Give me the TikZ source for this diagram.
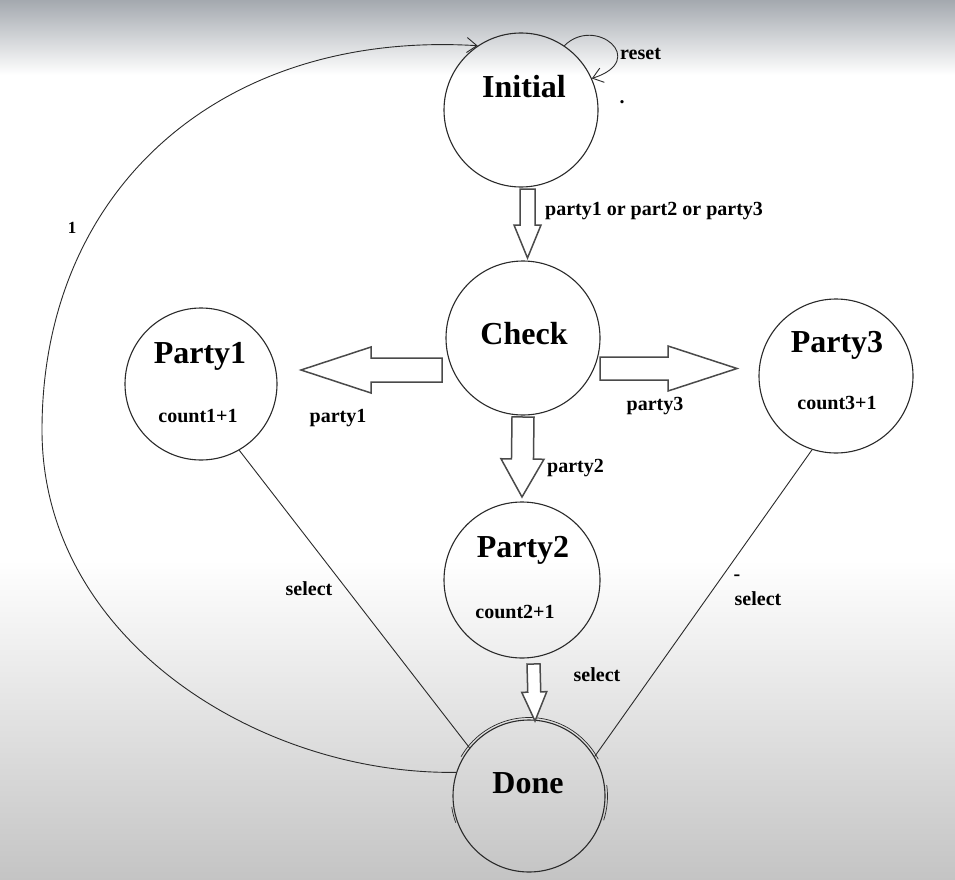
\documentclass[tikz,border=0pt]{standalone}
\usepackage{fontspec}
\setmainfont{Liberation Serif}
\usetikzlibrary{calc,arrows.meta}
\definecolor{inkc}{HTML}{2A2A2A}
\definecolor{topband}{HTML}{A4A9AF}
\definecolor{botgray}{HTML}{C4C4C4}
\newcommand\blockarrow[5]{% start, tip, shaft half width, head half width, head length
  \draw[blk] ($(#1)!#3!90:(#2)$)
    -- ($(#2)!#5!(#1)!#3!-90:(#1)$)
    -- ($(#2)!#5!(#1)!#4!-90:(#1)$)
    -- (#2)
    -- ($(#2)!#5!(#1)!#4!90:(#1)$)
    -- ($(#2)!#5!(#1)!#3!90:(#1)$)
    -- ($(#1)!#3!-90:(#2)$) -- cycle;}
\begin{document}
\begin{tikzpicture}[x=1pt,y=-1pt,
  state/.style={circle,draw=inkc,line width=1.1pt,minimum size=154pt,inner sep=0pt},
  big/.style={font=\fontsize{32}{36}\selectfont\bfseries,inner sep=0pt,anchor=base},
  small/.style={font=\fontsize{20}{24}\selectfont\bfseries,inner sep=0pt,anchor=base},
  tiny/.style={font=\fontsize{17}{20}\selectfont\bfseries,inner sep=0pt,anchor=base},
  blk/.style={draw=inkc!85,line width=1.5pt,fill=white,line join=miter},
  thinline/.style={draw=inkc,line width=0.9pt},
  sketch/.style={draw=inkc,line width=0.7pt},
  arr/.style={thinline,-{Straight Barb[length=10pt,width=15pt,line width=0.9pt]}}
]
% background
\fill[white] (0,0) rectangle (955,880);
\shade[top color=topband,bottom color=white] (0,0) rectangle (955,75);
\shade[top color=white,bottom color=botgray] (0,560) rectangle (955,880);
\useasboundingbox (0,0) rectangle (955,880);

% states
\node[state] (Initial) at (521,110) {};
\node[state] (Check) at (523,338) {};
\node[state,minimum size=152pt] (Party1) at (201,384) {};
\node[state,minimum size=154pt] (Party3) at (836,376) {};
\node[state,minimum size=156pt] (Party2) at (522,580) {};
\node[state,minimum size=152pt] (Done) at (529,796) {};
% sketchy double strokes on Done
\draw[sketch] ([shift={(150:78.5pt)}]Done.center) arc[start angle=150,end angle=28,radius=78.5pt];
\draw[sketch] ([shift={(8:78.5pt)}]Done.center) arc[start angle=8,end angle=-18,radius=78.5pt];
\draw[sketch] ([shift={(200:78pt)}]Done.center) arc[start angle=200,end angle=188,radius=78pt];

% state texts
\node[big] (tInitial) at (524,98) {Initial};
\node[big] (tCheck) at (524,344) {Check};
\node[big] (tParty1) at (200,363) {Party1};
\node[small] (cParty1) at (198,422) {count1+1};
\node[big] (tParty3) at (837,352) {Party3};
\node[small] (cParty3) at (837,409) {count3+1};
\node[big] (tParty2) at (523,557) {Party2};
\node[small] (cParty2) at (515,618) {count2+1};
\node[big] (tDone) at (528,793) {Done};

% block arrows
\coordinate (a0s) at (527.5,189);
\coordinate (a0t) at (527.5,258);
\blockarrow{a0s}{a0t}{7.5pt}{13.5pt}{33pt}
\coordinate (a1s) at (442,370);
\coordinate (a1t) at (301,370);
\blockarrow{a1s}{a1t}{12pt}{23pt}{70pt}
\coordinate (a3s) at (600,368.5);
\coordinate (a3t) at (737,368.5);
\blockarrow{a3s}{a3t}{11.5pt}{22.5pt}{69pt}
\coordinate (a2s) at (523,417);
\coordinate (a2t) at (522,497);
\blockarrow{a2s}{a2t}{11pt}{21.5pt}{38pt}
\coordinate (a4s) at (533.5,664);
\coordinate (a4t) at (535,721);
\blockarrow{a4s}{a4t}{6.5pt}{12.5pt}{29pt}

% thin connectors
\draw[thinline] (Party1.-60) -- (Done.141);
\draw[thinline] (Party3.-108) -- (Done.31);
\draw[arr] (Done.162) .. controls (260,775) and (42,640) .. (42,430)
   .. controls (42,190) and (220,30) .. (Initial.124);
\draw[arr] (Initial.56) .. controls (595,15) and (650,60) .. (Initial.24);

% labels
\node[small,anchor=base west] (l0) at (545,215) {party1 or part2 or party3};
\node[small,anchor=base west] (lreset) at (620,60) {reset};
\node[small] (ldot) at (622,104) {.};
\node[small] (l1) at (338,422) {party1};
\node[small] (l3) at (655,410) {party3};
\node[small,anchor=base west] (l2) at (547,472) {party2};
\node[small] (lsel2) at (597,681) {select};
\node[small] (lsel1) at (309,595) {select};
\node[small] (lsel3) at (758,605) {select};
\node[small] (ldash) at (737,580) {-};
\node[tiny] (lone) at (72,233) {1};
\end{tikzpicture}
\end{document}
